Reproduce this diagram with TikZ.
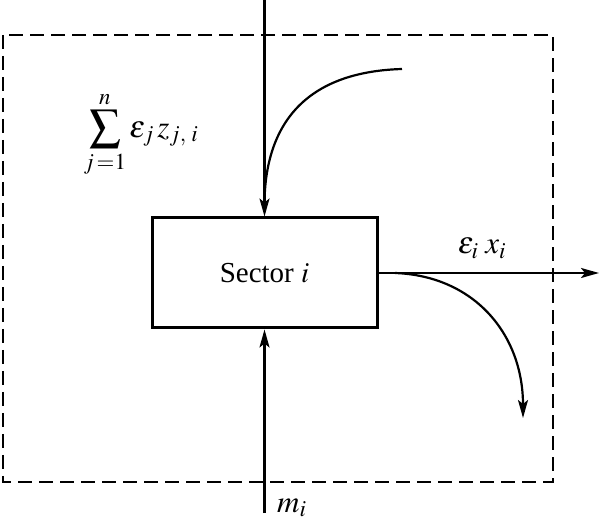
\documentclass[tikz,border=0pt]{standalone}
\usepackage{mathptmx}
\usepackage{fontspec}
\setmainfont{Liberation Serif}
\usepackage{tikz}
\usetikzlibrary{arrows.meta,positioning}

\begin{document}
\begin{tikzpicture}[x=1pt, y=-1pt]
		\tikzstyle{Sector}	= [draw, line width=3pt, minimum width=225pt, minimum height=110pt, inner sep=0pt, font=\fontsize{29}{34}\selectfont]
		\tikzstyle{Border}	= [line width=1.6pt, dash pattern=on 14pt off 7pt]
		\tikzstyle{Flow}	= [line width=2.2pt, -{Stealth[length=18pt, width=10pt, inset=4pt]}]
		\tikzstyle{Label}	= [inner sep=0pt, font=\fontsize{31}{36}\selectfont]

		\useasboundingbox (0,0) rectangle (600,526);

		\draw [Border] (3,35) rectangle (553,482);

		\node (sec) at (264.5,273) [Sector] {Sector $i$};

		\coordinate (top) at (264.5,0);
		\coordinate (src) at (402,69);
		\coordinate (bot) at (264.5,513);
		\coordinate (out) at (599,273);
		\coordinate (split) at (395,273);
		\coordinate (loss) at (523,418);

		\node (zsum) at (141,134) [Label] {$\displaystyle\sum_{j\,=1}^{n}\varepsilon_j\, z_{j,\;i}$};
		\node (ex) at (482,248) [Label] {$\varepsilon_i\; x_i$};
		\node (m) [Label, anchor=west] at (277,508) {$m_i$};

		\draw [Flow] (top) to (sec.north);
		\draw [line width=2.2pt] (src) .. controls (300,72) and (264.5,130) .. (264.5,205);
		\draw [Flow] (bot) to (sec.south);
		\draw [Flow] (sec.east) to (out);
		\draw [Flow] (split) .. controls (475,276) and (523,335) .. (loss);
	\end{tikzpicture}
\end{document}
